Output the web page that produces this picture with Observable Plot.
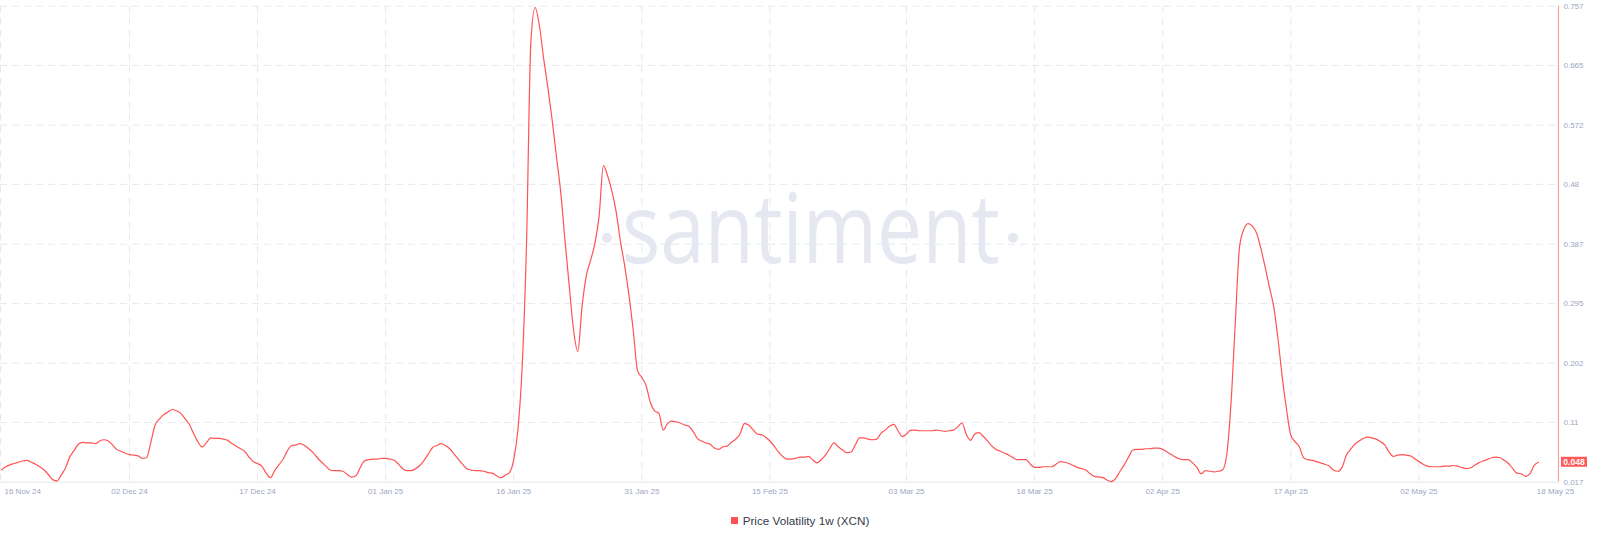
<!DOCTYPE html>
<html>
<head>
<meta charset="utf-8">
<script src="https://cdn.jsdelivr.net/npm/d3@7"></script>
<script src="https://cdn.jsdelivr.net/npm/@observablehq/plot@0.6"></script>
<style>
  html, body { margin: 0; padding: 0; background: #fff; }
  #chart svg { display: block; }
  #legend { height: 41px; display: flex; align-items: center; justify-content: center;
            font-family: "Liberation Sans", Arial, sans-serif; font-size: 11.7px; color: #353a4a; }
  #legend .sw { width: 7px; height: 7px; background: #ff5353; margin-right: 5px; }
</style>
</head>
<body>
<div id="chart"></div>
<div id="legend"><span class="sw"></span><span id="legendText"></span></div>
<script>
// ---- data (12-hour steps starting 17 Nov 2024) ----
const seriesName = "Price Volatility 1w (XCN)";
const startDate = "2024-11-17T00:00:00Z";
const stepHours = 12;
const values = [
  0.036,0.041,0.044,0.046,0.048,0.050,0.051,0.048,0.045,0.041,
  0.036,0.029,0.021,0.019,0.028,0.039,0.056,0.066,0.076,0.079,
  0.078,0.078,0.077,0.081,0.083,0.081,0.075,0.068,0.065,0.062,
  0.060,0.059,0.058,0.054,0.055,0.079,0.106,0.115,0.122,0.126,
  0.130,0.128,0.124,0.116,0.107,0.093,0.080,0.072,0.078,0.086,
  0.085,0.085,0.084,0.082,0.077,0.073,0.069,0.065,0.056,0.049,
  0.046,0.042,0.031,0.024,0.035,0.044,0.053,0.066,0.074,0.075,
  0.077,0.074,0.069,0.063,0.055,0.048,0.042,0.036,0.035,0.035,
  0.034,0.029,0.025,0.027,0.039,0.050,0.052,0.053,0.053,0.054,
  0.054,0.053,0.051,0.045,0.038,0.035,0.035,0.038,0.043,0.051,
  0.061,0.071,0.074,0.077,0.074,0.069,0.061,0.053,0.045,0.038,
  0.036,0.035,0.035,0.034,0.032,0.031,0.027,0.024,0.028,0.032,
  0.052,0.100,0.200,0.390,0.700,0.755,0.727,0.676,0.630,0.580,
  0.523,0.468,0.393,0.322,0.254,0.220,0.290,0.338,0.362,0.388,
  0.431,0.509,0.493,0.469,0.437,0.391,0.353,0.307,0.252,0.190,
  0.180,0.167,0.141,0.128,0.124,0.098,0.108,0.112,0.111,0.109,
  0.106,0.104,0.096,0.085,0.081,0.078,0.076,0.070,0.068,0.072,
  0.073,0.079,0.084,0.092,0.108,0.106,0.099,0.092,0.091,0.087,
  0.081,0.073,0.064,0.057,0.053,0.053,0.054,0.056,0.056,0.057,
  0.052,0.047,0.052,0.059,0.069,0.078,0.072,0.067,0.063,0.064,
  0.075,0.086,0.086,0.084,0.083,0.084,0.093,0.098,0.104,0.107,
  0.097,0.088,0.092,0.098,0.098,0.097,0.097,0.097,0.097,0.098,
  0.097,0.096,0.097,0.098,0.103,0.109,0.091,0.082,0.092,0.094,
  0.088,0.081,0.073,0.068,0.065,0.062,0.059,0.055,0.052,0.052,
  0.052,0.045,0.040,0.040,0.041,0.041,0.041,0.045,0.049,0.048,
  0.046,0.043,0.040,0.038,0.036,0.030,0.026,0.025,0.024,0.020,
  0.018,0.023,0.034,0.044,0.056,0.067,0.068,0.068,0.069,0.069,
  0.070,0.070,0.068,0.064,0.060,0.056,0.053,0.052,0.052,0.047,
  0.040,0.030,0.035,0.034,0.033,0.034,0.036,0.060,0.140,0.265,
  0.383,0.410,0.419,0.415,0.404,0.380,0.351,0.320,0.290,0.240,
  0.180,0.130,0.090,0.080,0.072,0.055,0.052,0.051,0.049,0.047,
  0.045,0.042,0.036,0.034,0.040,0.059,0.068,0.076,0.081,0.085,
  0.087,0.086,0.084,0.080,0.075,0.064,0.057,0.059,0.060,0.059,
  0.058,0.054,0.049,0.045,0.042,0.041,0.041,0.041,0.042,0.042,
  0.043,0.042,0.040,0.038,0.039,0.043,0.047,0.050,0.052,0.055,
  0.056,0.055,0.051,0.046,0.038,0.031,0.030,0.026,0.030,0.043,
  0.048
];
const xDomain = ["2024-11-16T21:28:00Z", "2025-05-18T08:24:00Z"];
const xTickDates = ["2024-11-16","2024-12-02","2024-12-17","2025-01-01","2025-01-16","2025-01-31",
                    "2025-02-15","2025-03-03","2025-03-18","2025-04-02","2025-04-17","2025-05-02","2025-05-18"];
const xTickLabels = ["16 Nov 24","02 Dec 24","17 Dec 24","01 Jan 25","16 Jan 25","31 Jan 25",
                     "15 Feb 25","03 Mar 25","18 Mar 25","02 Apr 25","17 Apr 25","02 May 25","18 May 25"];
const yTicks = [0.017,0.11,0.202,0.295,0.387,0.48,0.572,0.665,0.757];
const yTickLabels = ["0.017","0.11","0.202","0.295","0.387","0.48","0.572","0.665","0.757"];
const watermarkText = "santiment";

// ---- build ----
const t0 = Date.parse(startDate);
const data = values.map((v, i) => ({date: new Date(t0 + i * stepHours * 3600e3), value: v}));
const xTicks = xTickDates.map((d, i) => ({date: new Date(d + "T00:00:00Z"), label: xTickLabels[i]}));
const last = data[data.length - 1];

const lineColor = "#ff5353";
const gridColor = "#e5e8f0";
const tickColor = "#9ea6bf";
const font = "'Liberation Sans', Arial, sans-serif";

function watermark(index, scales, values, dims) {
  const g = d3.create("svg:g");
  const fw = dims.width - dims.marginLeft - dims.marginRight;
  const cx = dims.marginLeft + fw * 0.5205;
  const cy = dims.marginTop + (dims.height - dims.marginTop - dims.marginBottom) * 0.54;
  g.append("text")
    .attr("x", cx).attr("y", cy)
    .attr("text-anchor", "middle")
    .attr("font-family", "'Open Sans', sans-serif")
    .attr("font-size", 97)
    .attr("textLength", 378)
    .attr("lengthAdjust", "spacingAndGlyphs")
    .attr("fill", "#e6e8f1")
    .text(watermarkText);
  g.append("circle").attr("cx", cx - 204).attr("cy", cy - 25).attr("r", 5).attr("fill", "#e6e8f1");
  g.append("circle").attr("cx", cx + 202).attr("cy", cy - 25).attr("r", 5).attr("fill", "#e6e8f1");
  return g.node();
}

function badge(index, scales, values, dims) {
  const g = d3.create("svg:g");
  const y = scales.y(last.value);
  const x0 = dims.width - dims.marginRight + 3;
  g.append("rect").attr("x", x0).attr("y", y - 5).attr("width", 26).attr("height", 10).attr("fill", "#ff5a5a");
  g.append("text").attr("x", x0 + 13).attr("y", y).attr("dy", "0.35em")
    .attr("text-anchor", "middle").attr("font-family", font).attr("font-size", 8.5)
    .attr("font-weight", "bold").attr("fill", "#fff").text(d3.format(".3f")(last.value));
  return g.node();
}

const chart = Plot.plot({
  width: 1600,
  height: 500,
  marginLeft: 0,
  marginRight: 42,
  marginTop: 5.7,
  marginBottom: 18.3,
  style: {fontFamily: font, background: "#fff"},
  x: {type: "utc", domain: xDomain.map(d => new Date(d)), clamp: true, axis: null},
  y: {domain: [yTicks[0], yTicks[yTicks.length - 1]], axis: null},
  marks: [
    Plot.ruleY(yTicks.slice(1), {stroke: gridColor, strokeDasharray: "7,5", strokeWidth: 1}),
    Plot.ruleX(xTicks.slice(0, -1), {x: "date", stroke: gridColor, strokeDasharray: "7,5", strokeWidth: 1}),
    watermark,
    Plot.ruleY([yTicks[0]], {stroke: "#e3e6ee", strokeWidth: 1}),
    Plot.line(data, {x: "date", y: "value", stroke: lineColor, strokeWidth: 1.2, curve: "monotone-x"}),
    Plot.ruleX([new Date(xDomain[1])], {stroke: "#ff9e9e", strokeWidth: 1.2}),
    Plot.axisY({anchor: "right", ticks: yTicks, tickSize: 0, tickPadding: 5,
                tickFormat: (d, i) => yTickLabels[i], fontSize: 8, fill: tickColor, label: null}),
    Plot.text(xTicks.slice(0, 1), {x: "date", y: () => yTicks[0], text: "label", dy: 9, dx: 4,
                textAnchor: "start", fontSize: 8, fill: tickColor}),
    Plot.text(xTicks.slice(1), {x: "date", y: () => yTicks[0], text: "label", dy: 9,
                fontSize: 8, fill: tickColor}),
    badge
  ]
});
document.getElementById("chart").appendChild(chart);
document.getElementById("legendText").textContent = seriesName;
</script>
</body>
</html>
